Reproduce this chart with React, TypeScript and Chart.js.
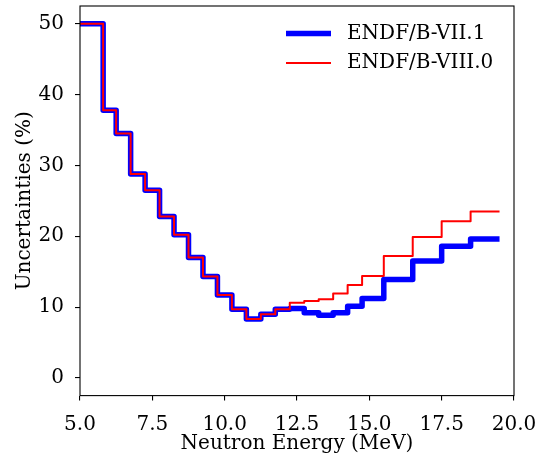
import React, { useEffect, useRef } from "react";
import { Chart, registerables } from "chart.js";

Chart.register(...registerables);

// Group boundaries of the neutron energy grid (MeV)
const energyEdges = [
  5.0, 5.8, 6.25, 6.75, 7.25, 7.75, 8.25, 8.75, 9.25, 9.75, 10.25, 10.75,
  11.25, 11.75, 12.25, 12.75, 13.25, 13.75, 14.25, 14.75, 15.5, 16.5, 17.5,
  18.5, 19.5,
];

// Relative uncertainty (%) in each energy group
const endfb71 = [
  50, 37.8, 34.5, 28.8, 26.5, 22.8, 20.2, 17.0, 14.3, 11.7, 9.7, 8.3, 9.0,
  9.7, 9.8, 9.2, 8.85, 9.2, 10.1, 11.2, 13.9, 16.5, 18.6, 19.6,
];
const endfb80 = [
  50, 37.8, 34.5, 28.8, 26.5, 22.8, 20.2, 17.0, 14.3, 11.7, 9.7, 8.3, 9.0,
  9.7, 10.6, 10.85, 11.1, 11.9, 13.1, 14.4, 17.2, 19.9, 22.1, 23.5,
];

const seriesLabels = ["ENDF/B-VII.1", "ENDF/B-VIII.0"];

const xTicks = [5.0, 7.5, 10.0, 12.5, 15.0, 17.5, 20.0];
const yTicks = [0, 10, 20, 30, 40, 50];

const FONT = "'DejaVu Serif', serif";

// Histogram-style points: each group value holds until the next boundary
function stepPoints(edges: number[], values: number[]) {
  const pts = values.map((v, i) => ({ x: edges[i], y: v }));
  pts.push({ x: edges[values.length], y: values[values.length - 1] });
  return pts;
}

// Axes frame plus an in-plot legend in the upper right
const frameAndLegend = {
  id: "frameAndLegend",
  afterDatasetsDraw(chart: any) {
    const { ctx, chartArea } = chart;
    const { left, right, top, bottom } = chartArea;
    ctx.save();
    ctx.strokeStyle = "#000";
    ctx.lineWidth = 1.1;
    ctx.strokeRect(left, top, right - left, bottom - top);

    const sampleX0 = right - 228;
    const sampleX1 = right - 183;
    const textX = right - 167;
    const rows = [top + 27.5, top + 57];
    chart.data.datasets.forEach((ds: any, i: number) => {
      const y = rows[i];
      ctx.beginPath();
      ctx.strokeStyle = ds.borderColor;
      ctx.lineWidth = ds.borderWidth;
      ctx.lineCap = "butt";
      ctx.moveTo(sampleX0, y);
      ctx.lineTo(sampleX1, y);
      ctx.stroke();
      ctx.fillStyle = "#000";
      ctx.font = `20px ${FONT}`;
      ctx.textBaseline = "middle";
      ctx.textAlign = "left";
      ctx.fillText(ds.label, textX, y);
    });
    ctx.restore();
  },
};

export default function App() {
  const canvasRef = useRef<HTMLCanvasElement | null>(null);

  useEffect(() => {
    const canvas = canvasRef.current;
    if (!canvas) return;
    const chart = new Chart(canvas, {
      type: "line",
      data: {
        datasets: [
          {
            label: seriesLabels[0],
            data: stepPoints(energyEdges, endfb71),
            borderColor: "#0000ff",
            borderWidth: 5.5,
            stepped: "before",
            pointRadius: 0,
            borderJoinStyle: "round",
            fill: false,
            order: 2,
          },
          {
            label: seriesLabels[1],
            data: stepPoints(energyEdges, endfb80),
            borderColor: "#ff0000",
            borderWidth: 2,
            stepped: "before",
            pointRadius: 0,
            borderJoinStyle: "round",
            fill: false,
            order: 1,
          },
        ],
      },
      options: {
        responsive: false,
        animation: false,
        events: [],
        layout: { padding: { left: 0, right: 26, top: 6, bottom: 0 } },
        plugins: {
          legend: { display: false },
          tooltip: { enabled: false },
        },
        scales: {
          x: {
            type: "linear",
            min: 5,
            max: 20,
            afterBuildTicks: (scale: any) => {
              scale.ticks = xTicks.map((v) => ({ value: v }));
            },
            afterFit: (scale: any) => {
              scale.height = 61.4;
              scale.paddingLeft = 0;
              scale.paddingRight = 0;
            },
            grid: {
              drawOnChartArea: false,
              drawTicks: true,
              tickLength: 5,
              color: "#000",
              lineWidth: 1.1,
            },
            border: { display: false },
            ticks: {
              autoSkip: false,
              maxRotation: 0,
              padding: 12,
              color: "#000",
              font: { family: FONT, size: 20 },
              callback: (v: any) => Number(v).toFixed(1),
            },
            title: {
              display: true,
              text: "Neutron Energy (MeV)",
              color: "#000",
              font: { family: FONT, size: 20 },
              padding: { top: 0, bottom: 1 },
            },
          },
          y: {
            type: "linear",
            min: -2.5,
            max: 52.5,
            afterBuildTicks: (scale: any) => {
              scale.ticks = yTicks.map((v) => ({ value: v }));
            },
            afterFit: (scale: any) => {
              scale.width = 80;
              scale.paddingTop = 0;
              scale.paddingBottom = 0;
            },
            grid: {
              drawOnChartArea: false,
              drawTicks: true,
              tickLength: 5,
              color: "#000",
              lineWidth: 1.1,
            },
            border: { display: false },
            ticks: {
              autoSkip: false,
              padding: 11,
              color: "#000",
              font: { family: FONT, size: 20 },
              callback: (v: any) => String(v),
            },
            title: {
              display: true,
              text: "Uncertainties (%)",
              color: "#000",
              font: { family: FONT, size: 20 },
              padding: { top: 13, bottom: 0 },
            },
          },
        },
      },
      plugins: [frameAndLegend],
    } as any);
    return () => chart.destroy();
  }, []);

  return (
    <div style={{ position: "absolute", left: 0, top: 0, width: 540, height: 457, background: "#fff" }}>
      <canvas ref={canvasRef} width={540} height={457} />
    </div>
  );
}
